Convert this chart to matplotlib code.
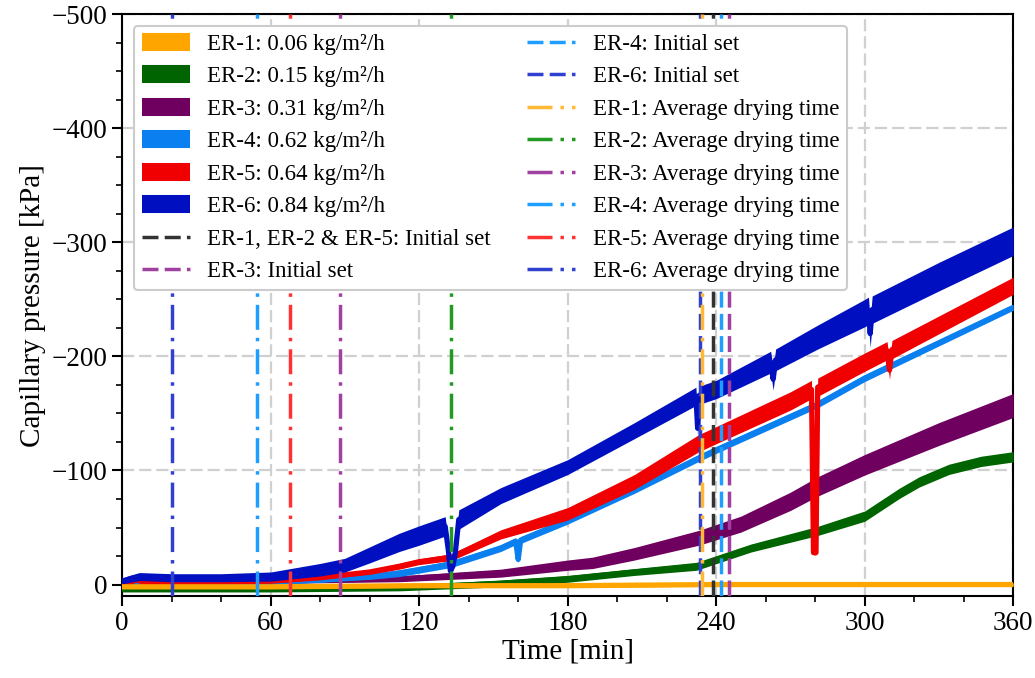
import matplotlib
matplotlib.use("Agg")
import numpy as np
import matplotlib.pyplot as plt
from matplotlib.ticker import MultipleLocator

plt.rcParams['font.family'] = ['Liberation Serif', 'DejaVu Serif']

# measured capillary pressure read off the picture (time in min, pressure in kPa)
# *_b is the width of the noisy band around the curve (kPa)
er1_t = [0, 60, 120, 180, 240, 300, 360]
er1_p = [2, 2, 1, 1, 0, 0, 0]
er1_b = [3, 3, 3, 3, 3, 3, 3]

er2_t = [0, 60, 112, 153, 180, 207, 232, 254, 281, 300, 307, 314, 322, 334, 347, 360]
er2_p = [4, 4, 3, -1, -5, -11, -16, -32, -47, -60, -70, -80, -90, -101, -108, -112]
er2_b = [5, 5, 5, 6, 6, 6, 7, 7, 8, 9, 9, 9, 9, 9, 9, 9]

er3_t = [0, 60, 112, 153, 180, 190, 207, 233, 250, 270, 281, 300, 330, 360]
er3_p = [-1, -3, -5, -10, -17, -19, -27, -41, -53, -73, -86, -105, -132, -157]
er3_b = [4, 4, 5, 7, 9, 10, 11, 13, 14, 16, 17, 18, 20, 21]

er4_t = [0, 60, 80, 100, 112, 120, 133, 153, 159, 160, 161, 180, 207, 233, 240, 281, 300, 360]
er4_p = [0, -2, -4, -7, -10, -13, -18, -32, -38, -22, -39, -56, -83, -111, -118, -158, -181, -243]
er4_b = [3, 3, 4, 5, 6, 6, 6, 6, 6, 6, 6, 6, 6, 6, 6, 6, 6, 5]

er5_t = [0, 3, 6, 10, 60, 80, 100, 112, 120, 133, 153, 180, 207, 233, 240, 270, 278.5, 279.3, 280.3, 281,
         300, 309, 310, 311, 360]
er5_p = [0, -2, -4, -1, -3, -6, -11, -16, -20, -24, -44, -62, -90, -124, -131, -161, -171, -28, -28, -173,
         -195, -205, -188, -206, -262]
er5_b = [2, 3, 3, 2, 3, 3, 4, 5, 5, 6, 8, 11, 13, 15, 15, 16, 16, 4, 4, 16, 16, 16, 16, 16, 15]

er6_t = [0, 3, 7, 20, 40, 60, 80, 90, 100, 112, 120, 130.5, 131.8, 132.6, 133.6, 134.6, 136, 153, 180, 207,
         231.8, 232.5, 233.2, 240, 262, 263, 264, 281, 300, 301.5, 302.2, 303, 330, 360]
er6_p = [-3, -5, -7, -6, -6, -7, -13, -17, -26, -37, -43, -51, -30, -12, -16, -28, -57, -78, -103, -135,
         -165, -137, -166, -171, -195, -180, -197, -217, -238, -240, -220, -241, -270, -301]
er6_b = [5, 6, 7, 7, 7, 8, 11, 12, 14, 16, 17, 17, 14, 8, 8, 14, 17, 14, 13, 14, 16, 16, 16, 16, 19, 19, 19,
         21, 24, 24, 24, 24, 25, 25]

# initial set and average drying times [min]
init_er125 = 238.9
init_er3 = 245.2
init_er4 = 242.0
init_er6 = 233.3
dry_times = [234.3, 132.8, 87.9, 54.6, 67.7, 20.2]

labels = ['ER-1: 0.06 kg/m²/h', 'ER-2: 0.15 kg/m²/h', 'ER-3: 0.31 kg/m²/h',
          'ER-4: 0.62 kg/m²/h', 'ER-5: 0.64 kg/m²/h', 'ER-6: 0.84 kg/m²/h']
colors = ['#FFA500', '#006400', '#700060', '#0A80F0', '#F00000', '#0010C0']
vcolors = ['#FFB833', '#229922', '#A040A0', '#1E9FFF', '#FF3333', '#3040D0']
zorders = [3.6, 3.0, 3.1, 3.2, 3.3, 3.4]

series = [(er1_t, er1_p, er1_b), (er2_t, er2_p, er2_b), (er3_t, er3_p, er3_b),
          (er4_t, er4_p, er4_b), (er5_t, er5_p, er5_b), (er6_t, er6_p, er6_b)]

fig, ax = plt.subplots(figsize=(10.35, 6.78), dpi=100)
fig.subplots_adjust(left=0.118, right=0.979, bottom=0.121, top=0.979)

for (t, p, b), c, lab, z in zip(series, colors, labels, zorders):
    p = np.array(p, dtype=float)
    b = np.array(b, dtype=float)
    ax.fill_between(t, p - b / 2, p + b / 2, color=c, lw=0, zorder=z)
    ax.plot(t, p, color=c, lw=3.8, label=lab, solid_joinstyle='round',
            solid_capstyle='round', zorder=z)

dash = (4.6, 1.8)
dashdot = (7.2, 2.3, 1.0, 2.3)
vl = dict(lw=2.5, zorder=4)
ax.axvline(init_er125, color='#333333', dashes=dash, label='ER-1, ER-2 & ER-5: Initial set', **vl)
ax.axvline(init_er3, color=vcolors[2], dashes=dash, label='ER-3: Initial set', **vl)
ax.axvline(init_er4, color=vcolors[3], dashes=dash, label='ER-4: Initial set', **vl)
ax.axvline(init_er6, color=vcolors[5], dashes=dash, label='ER-6: Initial set', **vl)
for i, tt in enumerate(dry_times):
    ax.axvline(tt, color=vcolors[i], dashes=dashdot, label=f'ER-{i + 1}: Average drying time', **vl)

ax.set_xlim(0, 360)
ax.set_ylim(10, -500)
ax.xaxis.set_major_locator(MultipleLocator(60))
ax.xaxis.set_minor_locator(MultipleLocator(20))
ax.yaxis.set_major_locator(MultipleLocator(100))
ax.yaxis.set_minor_locator(MultipleLocator(25))
ax.tick_params(which='major', length=7, width=1.5, labelsize=19.5)
ax.tick_params(which='minor', length=4, width=1.2)
for s in ax.spines.values():
    s.set_linewidth(1.5)
ax.grid(True, which='major', color='#d0d0d0', lw=1.6, dashes=(5.5, 2.2), zorder=0)
ax.set_axisbelow(True)

ax.set_xlabel('Time [min]', fontsize=21, labelpad=2)
ax.set_ylabel('Capillary pressure [kPa]', fontsize=21)

leg = ax.legend(loc='upper left', ncol=2, fontsize=16.5, labelspacing=0.5,
                handlelength=2.1, handletextpad=0.75, columnspacing=1.6,
                borderpad=0.35, borderaxespad=0.5, framealpha=1,
                edgecolor='#cccccc', fancybox=True)
leg.get_frame().set_linewidth(1.5)
for h in leg.legend_handles[:6]:
    h.set_linewidth(13)
    h.set_solid_capstyle('butt')
leg.set_zorder(10)

fig.savefig('out.png', dpi=100)
